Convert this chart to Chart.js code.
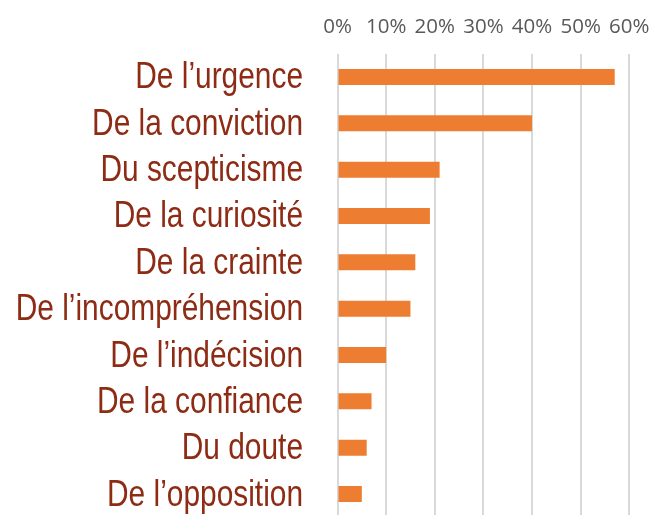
<!DOCTYPE html>
<html><head><meta charset="utf-8">
<script src="https://cdn.jsdelivr.net/npm/chart.js@4"></script>
<style>html,body{margin:0;padding:0;background:#fff;overflow:hidden}</style>
</head><body><canvas id="c" width="654" height="520" style="display:block;width:654px;height:520px"></canvas>
<script>
const categories = ["De l’urgence","De la conviction","Du scepticisme","De la curiosité","De la crainte","De l’incompréhension","De l’indécision","De la confiance","Du doute","De l’opposition"];
const values = [57,40,21,19,16,15,10,7,6,5];
const tickValues = [0,10,20,30,40,50,60];

// Draws the category axis labels in a narrow (horizontally condensed) face, like Arial Narrow
const narrowLabels = {
  id: 'narrowLabels',
  afterDraw(chart) {
    const s = chart.scales.y, ctx = chart.ctx;
    ctx.save();
    ctx.fillStyle = '#8E2B14';
    ctx.font = '36px "Liberation Sans", Arial, sans-serif';
    ctx.textAlign = 'right';
    ctx.textBaseline = 'alphabetic';
    s.ticks.forEach((t, i) => {
      const y = s.getPixelForTick(i);
      ctx.save();
      ctx.translate(s.right - 34.5, y + 11.5);
      ctx.scale(0.83, 1);
      ctx.fillText(s.getLabelForValue(t.value), 0, 0);
      ctx.restore();
    });
    ctx.restore();
  }
};

new Chart(document.getElementById('c'), {
  type: 'bar',
  data: { labels: categories, datasets: [{ data: values, backgroundColor: '#ED7D31', borderWidth: 0, barPercentage: 0.69, categoryPercentage: 0.5 }] },
  plugins: [narrowLabels],
  options: {
    indexAxis: 'y', responsive: false, animation: false,
    layout: { padding: { left: 0, right: 24.7, top: 0, bottom: 2.8 } },
    plugins: { legend: { display: false }, tooltip: { enabled: false } },
    scales: {
      x: { position: 'top', min: 0, max: 60,
        afterBuildTicks: ax => { ax.ticks = tickValues.map(v => ({ value: v })); },
        afterFit: s => { s.height = 53.8; s.paddingLeft = 0; s.paddingRight = 0; },
        ticks: { callback: v => v + '%', color: '#595959', font: { family: 'Open Sans', size: 20.5 }, padding: 14.5, maxRotation: 0 },
        grid: { color: '#D9D9D9', lineWidth: 2, drawTicks: false },
        border: { display: false } },
      y: { grid: { display: false }, border: { display: false },
        afterFit: s => { s.width = 337.5; s.paddingTop = 0; s.paddingBottom = 0; },
        ticks: { display: false } }
    }
  }
});
</script></body></html>
